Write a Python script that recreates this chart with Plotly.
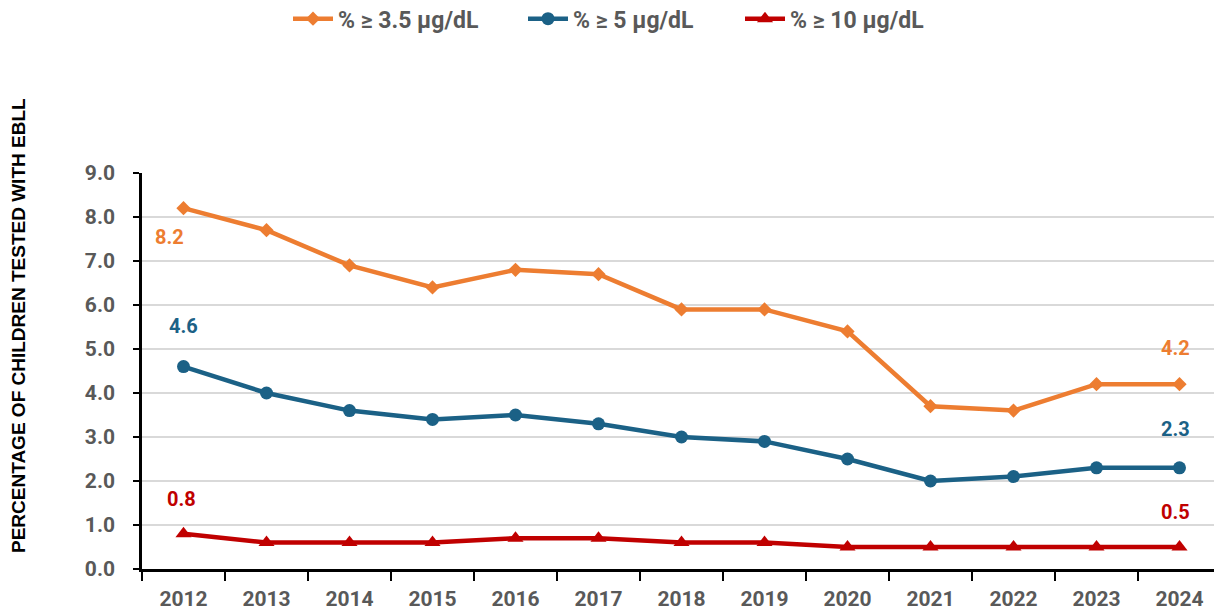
import plotly.graph_objects as go

years = ["2012", "2013", "2014", "2015", "2016", "2017", "2018", "2019", "2020", "2021", "2022", "2023", "2024"]
pct_35 = [8.2, 7.7, 6.9, 6.4, 6.8, 6.7, 5.9, 5.9, 5.4, 3.7, 3.6, 4.2, 4.2]
pct_5 = [4.6, 4.0, 3.6, 3.4, 3.5, 3.3, 3.0, 2.9, 2.5, 2.0, 2.1, 2.3, 2.3]
pct_10 = [0.8, 0.6, 0.6, 0.6, 0.7, 0.7, 0.6, 0.6, 0.5, 0.5, 0.5, 0.5, 0.5]
series_names = ["% ≥ 3.5 µg/dL", "% ≥ 5 µg/dL", "% ≥ 10 µg/dL"]
y_ticks = [0.0, 1.0, 2.0, 3.0, 4.0, 5.0, 6.0, 7.0, 8.0, 9.0]

ORANGE = "#ED7D31"
BLUE = "#1B6186"
RED = "#C00000"
GRAY = "#595959"
FONT = "Roboto"

W, H = 1214, 603  # page body adds an 8px offset

fig = go.Figure()
fig.add_trace(go.Scatter(x=years, y=pct_35, name=series_names[0], mode="lines+markers",
                         line=dict(color=ORANGE, width=4.5), legend="legend",
                         marker=dict(symbol="diamond", size=11, color=ORANGE)))
fig.add_trace(go.Scatter(x=years, y=pct_5, name=series_names[1], mode="lines+markers",
                         line=dict(color=BLUE, width=4.5), legend="legend2",
                         marker=dict(symbol="circle", size=13, color=BLUE)))
fig.add_trace(go.Scatter(x=years, y=pct_10, name=series_names[2], mode="lines+markers",
                         line=dict(color=RED, width=4.5), legend="legend3",
                         marker=dict(symbol="triangle-up", size=14, color=RED)))

def label(idx, values, color, xshift, yshift):
    yv = values[idx]
    fig.add_annotation(x=idx, y=yv, xref="x", yref="y", text=f"<b>{yv:.1f}</b>",
                       showarrow=False, xshift=xshift, yshift=yshift,
                       font=dict(family=FONT, size=20, color=color))

last = len(years) - 1
label(0, pct_35, ORANGE, -14, -29)
label(0, pct_5, BLUE, 0, 41)
label(0, pct_10, RED, -2, 35)
label(last, pct_35, ORANGE, -4, 36)
label(last, pct_5, BLUE, -4, 39)
label(last, pct_10, RED, -4, 35)

fig.add_annotation(text="<b>PERCENTAGE OF CHILDREN TESTED WITH EBLL</b>",
                   xref="paper", yref="paper", x=-0.115, xanchor="center",
                   y=0.616, yanchor="middle", textangle=-90, showarrow=False,
                   font=dict(family="Liberation Sans", size=19, color="black"))

def legend_at(px):
    return dict(orientation="h", x=px / W, xanchor="left", xref="container",
                y=1.444, yanchor="top", yref="paper", bgcolor="rgba(0,0,0,0)",
                font=dict(family=FONT, size=23, color=GRAY, weight="bold"),
                itemwidth=40)

fig.update_layout(
    width=W, height=H,
    margin=dict(l=134, r=1, t=165, b=42, autoexpand=False),
    paper_bgcolor="white", plot_bgcolor="white",
    font=dict(family=FONT, color=GRAY),
    showlegend=True,
    legend=legend_at(280),
    legend2=legend_at(515),
    legend3=legend_at(732),
    xaxis=dict(type="category", range=[-0.5, len(years) - 0.5], showline=True,
               linecolor="black", linewidth=2.5, automargin=False,
               ticks="outside", tickson="boundaries", ticklen=9, tickwidth=2, tickcolor="black",
               showgrid=False, tickfont=dict(family=FONT, size=21, color=GRAY, weight="bold"),
               ticklabelstandoff=9),
    yaxis=dict(range=[0, 9], tickvals=y_ticks, tickformat=".1f", showline=True,
               linecolor="black", linewidth=2.5, ticks="outside", ticklen=6, tickwidth=2,
               tickcolor="black", showgrid=True, gridcolor="#D9D9D9", gridwidth=2,
               zeroline=False, automargin=False,
               tickfont=dict(family=FONT, size=21, color=GRAY, weight="bold"),
               ticklabelstandoff=14),
)

fig.write_html("out.html")
